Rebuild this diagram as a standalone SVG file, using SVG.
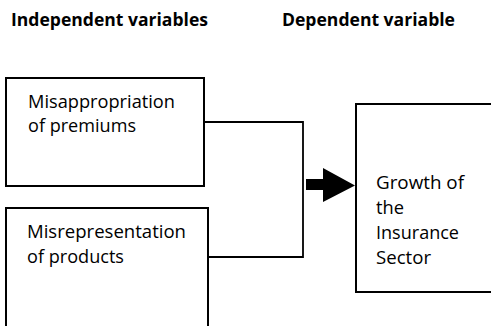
<svg xmlns="http://www.w3.org/2000/svg" width="491" height="326" viewBox="0 0 491 326">
<style>
.box{fill:#fff;stroke:#000;stroke-width:2}
.con{fill:none;stroke:#000;stroke-width:1.8}
.h{font-family:"Open Sans","Liberation Sans",sans-serif;font-weight:bold;font-size:17.5px;fill:#000}
.t{font-family:"Open Sans","Liberation Sans",sans-serif;font-size:18px;fill:#000}
</style>
<rect width="491" height="326" fill="#fff"/>
<g id="headings">
<text class="h" x="11" y="26" textLength="197" lengthAdjust="spacingAndGlyphs">Independent variables</text>
<text class="h" x="282" y="26" textLength="173" lengthAdjust="spacingAndGlyphs">Dependent variable</text>
</g>
<g id="node-misappropriation">
<rect class="box" x="6" y="78" width="198" height="108"/>
<text class="t" x="28" y="108" textLength="147" lengthAdjust="spacingAndGlyphs">Misappropriation</text>
<text class="t" x="28" y="132" textLength="108" lengthAdjust="spacingAndGlyphs">of premiums</text>
</g>
<g id="node-misrepresentation">
<rect class="box" x="6" y="208" width="202" height="130"/>
<text class="t" x="27" y="238" textLength="159" lengthAdjust="spacingAndGlyphs">Misrepresentation</text>
<text class="t" x="27" y="263" textLength="97" lengthAdjust="spacingAndGlyphs">of products</text>
</g>
<g id="node-growth">
<rect class="box" x="356" y="104" width="150" height="188"/>
<text class="t" x="376" y="189" textLength="88" lengthAdjust="spacingAndGlyphs">Growth of</text>
<text class="t" x="376" y="214" textLength="28" lengthAdjust="spacingAndGlyphs">the</text>
<text class="t" x="376" y="239" textLength="83" lengthAdjust="spacingAndGlyphs">Insurance</text>
<text class="t" x="376" y="264" textLength="55" lengthAdjust="spacingAndGlyphs">Sector</text>
</g>
<g id="connectors">
<polyline class="con" points="204,122 303,122 303,257 208,257"/>
<path d="M306,179 H323 V168 L355,185.5 L323,202 V190 H306 Z" fill="#000"/>
</g>
</svg>
